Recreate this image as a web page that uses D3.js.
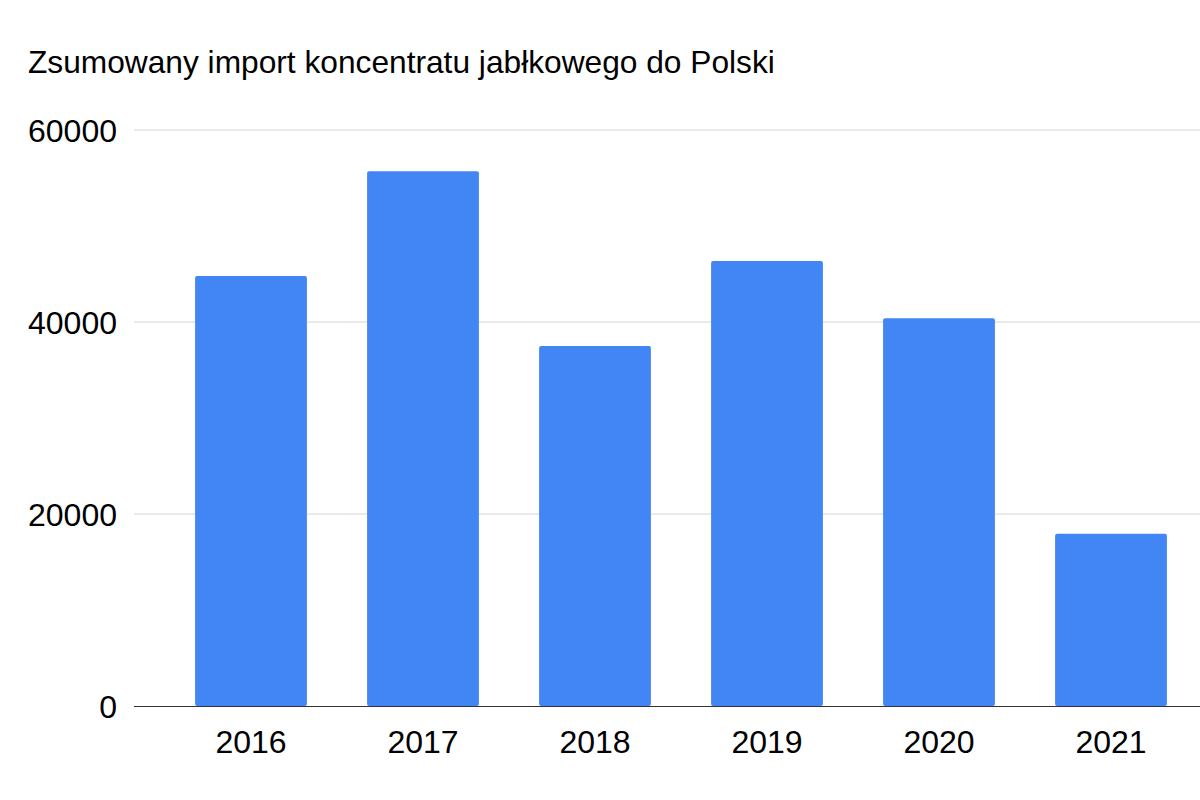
<!DOCTYPE html>
<html>
<head>
<meta charset="utf-8">
<script src="https://cdn.jsdelivr.net/npm/d3@7"></script>
<style>
  body { margin: 0; background: #fff; }
  text { font-family: Arial, "Liberation Sans", sans-serif; fill: #000; }
</style>
</head>
<body>
<svg width="1200" height="800"></svg>
<script>
var years = ["2016", "2017", "2018", "2019", "2020", "2021"];
var imports = [44800, 55700, 37500, 46350, 40400, 17950];
var yTicks = [0, 20000, 40000, 60000];

var svg = d3.select("svg");

svg.append("text")
  .attr("x", 28)
  .attr("y", 73)
  .attr("font-size", 31.7)
  .text("Zsumowany import koncentratu jabłkowego do Polski");

var xScale = d3.scaleBand()
  .domain(years)
  .range([165, 1197])
  .paddingInner(0.35)
  .paddingOuter(0.175);

var yScale = d3.scaleLinear()
  .domain([0, 60000])
  .range([706, 130]);

// grid lines
svg.append("g")
  .selectAll("line")
  .data(yTicks.slice(1))
  .enter()
  .append("line")
  .attr("x1", 134)
  .attr("x2", 1200)
  .attr("y1", (d) => yScale(d))
  .attr("y2", (d) => yScale(d))
  .attr("stroke", "#d4d4d4")
  .attr("stroke-width", 1);

// y labels
var yAxis = svg.append("g")
  .attr("transform", "translate(117,0)")
  .call(d3.axisLeft(yScale).tickValues(yTicks).tickSize(0).tickPadding(0).tickFormat(d3.format("d")));
yAxis.select(".domain").remove();
yAxis.selectAll("text").attr("font-size", 32).attr("dy", "0.36em");

// bars
svg.append("g")
  .selectAll("rect")
  .data(years)
  .enter()
  .append("rect")
  .attr("x", (d) => xScale(d))
  .attr("y", (d, i) => yScale(imports[i]))
  .attr("width", xScale.bandwidth())
  .attr("height", (d, i) => 706 - yScale(imports[i]))
  .attr("rx", 2)
  .attr("fill", "#4285f4");

// baseline + x labels
var xAxis = svg.append("g")
  .attr("transform", "translate(0,706)")
  .call(d3.axisBottom(xScale).tickSize(0).tickPadding(24));
xAxis.select(".domain").remove();
xAxis.selectAll("text").attr("font-size", 32).attr("dy", "0.71em");

svg.append("line")
  .attr("x1", 134)
  .attr("x2", 1200)
  .attr("y1", 706.5)
  .attr("y2", 706.5)
  .attr("stroke", "#333")
  .attr("stroke-width", 1);
</script>
</body>
</html>
